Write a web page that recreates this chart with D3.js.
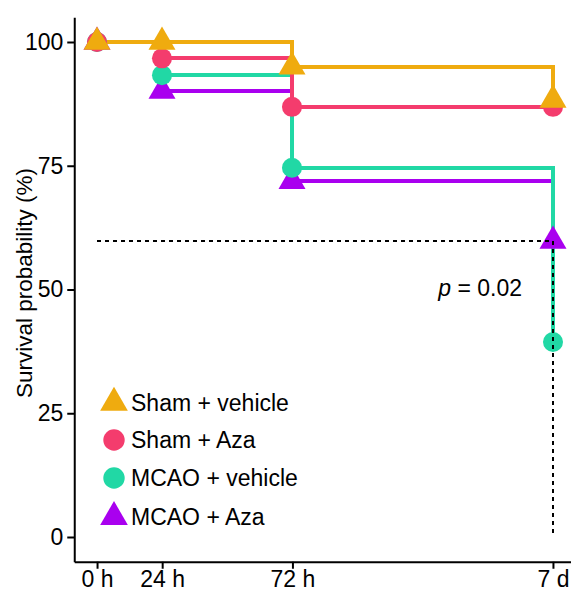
<!DOCTYPE html>
<html>
<head>
<meta charset="utf-8">
<script src="https://cdn.jsdelivr.net/npm/d3@7"></script>
<style>
  body { margin: 0; background: #fff; }
  text { font-family: "Liberation Sans", Arial, sans-serif; }
</style>
</head>
<body>
<svg id="chart" width="571" height="592"></svg>
<script>
'use strict'

// time points in hours, survival in %
const times = [0, 24, 72, 168]
const timeLabels = ['0 h', '24 h', '72 h', '7 d']
const yTicks = [0, 25, 50, 75, 100]

const groups = ['Sham + vehicle', 'Sham + Aza', 'MCAO + vehicle', 'MCAO + Aza']
const shamVehicle = [100, 100, 95, 88.3]
const shamAza = [100, 96.7, 86.9, 86.9]
const mcaoVehicle = [100, 93.3, 74.6, 39.4]
const mcaoAza = [100, 90.1, 71.9, 59.8]

const refLevel = 59.8   // dotted reference line
const pLabel = '0.02'

const colors = ['#EFAB0F', '#F43C6D', '#21D8A5', '#A900EF']
const shapes = [d3.symbolTriangle, d3.symbolCircle, d3.symbolCircle, d3.symbolTriangle]

const fontSize = '23px'

const svg = d3.select('#chart')

const x = d3.scaleLinear().domain([-8.4, 176.4]).range([74.25, 575.75])
const y = d3.scaleLinear().domain([-5, 105]).range([561.75, 17.25])

// axes
const xAxis = svg.append('g')
  .attr('transform', `translate(0,${y(-5)})`)
  .call(d3.axisBottom(x).tickValues(times).tickFormat((d, i) => timeLabels[i])
    .tickSize(7).tickSizeOuter(0).tickPadding(2))
const yAxis = svg.append('g')
  .attr('transform', `translate(${x(-8.4)},0)`)
  .call(d3.axisLeft(y).tickValues(yTicks).tickSize(7).tickSizeOuter(0).tickPadding(4))

for (const ax of [xAxis, yAxis]) {
  ax.select('.domain').attr('stroke', '#000').attr('stroke-width', 2)
  ax.selectAll('.tick line').attr('stroke', '#000').attr('stroke-width', 2)
  ax.selectAll('.tick text').attr('fill', '#000').style('font-size', fontSize)
    .style('font-family', '"Liberation Sans", Arial, sans-serif')
}

svg.append('text')
  .attr('transform', `translate(24,283) rotate(-90)`)
  .attr('text-anchor', 'middle')
  .attr('dy', '0.35em')
  .style('font-size', '22.5px')
  .text('Survival probability (%)')

const series = [shamVehicle, shamAza, mcaoVehicle, mcaoAza]
  .map((vals, i) => ({ name: groups[i], color: colors[i], shape: shapes[i],
    points: vals.map((v, j) => [times[j], v]) }))

// draw bottom group first so Sham + vehicle ends up on top
const drawOrder = series.slice().reverse()

// snapped to whole pixels so stacked vertical steps don't blend
const line = d3.line()
  .x(d => Math.round(x(d[0])))
  .y(d => Math.round(y(d[1])))
  .curve(d3.curveStepAfter)

svg.append('g').selectAll('path')
  .data(drawOrder)
  .join('path')
  .attr('d', d => line(d.points))
  .attr('fill', 'none')
  .attr('stroke', d => d.color)
  .attr('stroke-width', 4)

const symbolSize = 316
svg.append('g').selectAll('g')
  .data(drawOrder)
  .join('g')
  .each((d, i, nodes) => {
    d3.select(nodes[i]).selectAll('path')
      .data(d.points)
      .join('path')
      .attr('transform', p => `translate(${Math.round(x(p[0]))},${y(p[1])})`)
      .attr('d', d3.symbol().type(d.shape).size(symbolSize))
      .attr('fill', d.color)
  })

// dotted reference lines
svg.append('path')
  .attr('d', `M${Math.round(x(0))},${y(refLevel)}H${Math.round(x(168))}V${y(0)}`)
  .attr('fill', 'none')
  .attr('stroke', '#000')
  .attr('stroke-width', 2)
  .attr('stroke-dasharray', '4,4')

const pText = svg.append('text')
  .attr('x', 522)
  .attr('y', 296)
  .attr('text-anchor', 'end')
  .style('font-size', fontSize)
pText.append('tspan').style('font-style', 'italic').text('p')
pText.append('tspan').text(` = ${pLabel}`)

// legend
const legendY = [402.7, 440, 478, 517]
const legend = svg.append('g').selectAll('g')
  .data(series)
  .join('g')
  .attr('transform', (d, i) => `translate(114,${legendY[i]})`)

legend.append('path')
  .attr('d', d => d3.symbol().type(d.shape).size(d.shape === d3.symbolCircle ? 360 : 332)())
  .attr('fill', d => d.color)

legend.append('text')
  .attr('x', 17)
  .attr('dy', '0.34em')
  .style('font-size', fontSize)
  .text(d => d.name)
</script>
</body>
</html>
